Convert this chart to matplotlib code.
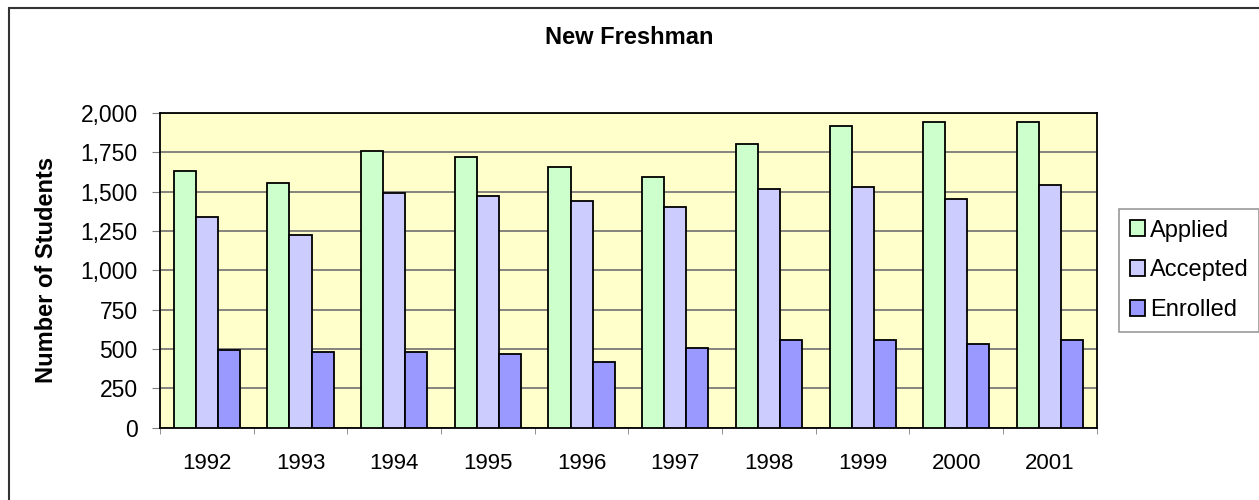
import matplotlib
matplotlib.use("Agg")
import matplotlib.pyplot as plt
from matplotlib.patches import Rectangle
from matplotlib.ticker import FuncFormatter
import numpy as np

plt.rcParams["font.family"] = ["Liberation Sans", "DejaVu Sans"]

years = ["1992", "1993", "1994", "1995", "1996", "1997", "1998", "1999", "2000", "2001"]
applied = [1630, 1555, 1760, 1720, 1655, 1595, 1800, 1915, 1940, 1940]
accepted = [1340, 1225, 1490, 1470, 1440, 1405, 1515, 1530, 1455, 1545]
enrolled = [495, 480, 480, 468, 418, 505, 558, 558, 533, 558]

series = [
    ("Applied", applied, "#CCFFCC"),
    ("Accepted", accepted, "#CCCCFF"),
    ("Enrolled", enrolled, "#9999FF"),
]

W, H = 1259, 500
fig = plt.figure(figsize=(W / 100, H / 100), dpi=100)
ax = fig.add_axes([160 / W, 1 - 427.7 / H, (1096.7 - 160) / W, (427.7 - 113) / H])
ax.set_facecolor("#FFFFCC")

x = np.arange(len(years))
w = 0.235
for i, (name, vals, col) in enumerate(series):
    ax.bar(x + (i - 1) * w, vals, width=w, color=col, edgecolor="black",
           linewidth=1.3, label=name, zorder=3)

ax.set_xlim(-0.5, len(years) - 0.5)
ax.set_ylim(0, 2000)
ax.set_yticks(range(0, 2001, 250))
ax.yaxis.set_major_formatter(FuncFormatter(lambda v, p: f"{int(v):,}"))
ax.grid(axis="y", color="#707070", linewidth=1.2, zorder=1)
ax.set_xticks(x)
ax.set_xticklabels(years)
ax.set_xticks(np.arange(-0.5, len(years)), minor=True)
ax.tick_params(axis="x", which="major", length=0, pad=18, labelsize=16)
ax.tick_params(axis="x", which="minor", length=4, color="#808080")
ax.tick_params(axis="y", length=6, color="#808080", pad=10, labelsize=16.5)
for s in ax.spines.values():
    s.set_color("black")
    s.set_linewidth(1.3)

fig.text(0.5, 1 - 37 / H, "New Freshman", ha="center", va="center",
         fontsize=17, fontweight="bold")
fig.text(47 / W, 1 - 270 / H, "Number of Students", ha="center", va="center",
         rotation=90, fontsize=17, fontweight="bold")

leg = fig.legend(loc="upper left", bbox_to_anchor=(1119 / W, 1 - 209 / H),
                 bbox_transform=fig.transFigure, borderaxespad=0, fontsize=17,
                 fancybox=False, frameon=True, handlelength=0.65,
                 handleheight=0.65, handletextpad=0.2, labelspacing=0.75,
                 borderpad=0.45)
leg.get_frame().set_edgecolor("#808080")
leg.get_frame().set_linewidth(1.2)

fig.patches.append(Rectangle((9 / W, -0.1), 2, 1 - 8 / H + 0.1,
                             transform=fig.transFigure, fill=False,
                             edgecolor="#333333", linewidth=1.5))

fig.savefig("out.png", dpi=100)
